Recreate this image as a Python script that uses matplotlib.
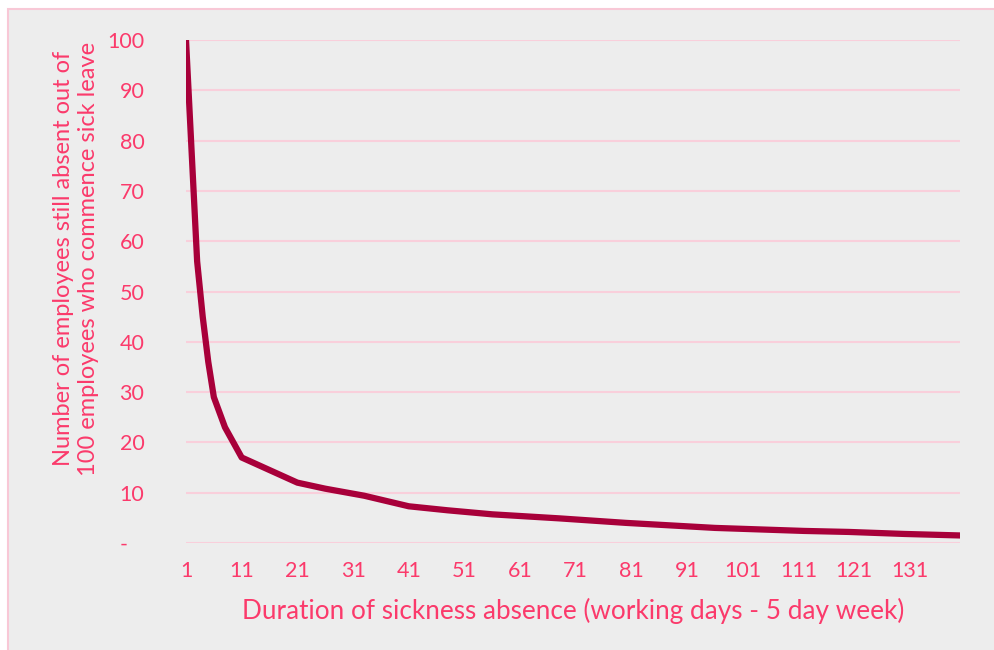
import matplotlib
matplotlib.use("Agg")
import matplotlib.pyplot as plt
from matplotlib.patches import Rectangle

# Data (day of absence -> employees still absent out of 100)
days = [1, 2, 3, 4, 5, 6, 7, 8, 9, 10, 11, 16, 21, 26, 31, 33, 41, 48, 56,
        68, 80, 88, 96, 104, 112, 120, 130, 140]
still_absent = [100, 78, 56, 45, 36, 29, 26, 23, 21, 19, 17, 14.5, 12, 10.8,
                9.8, 9.4, 7.3, 6.5, 5.7, 4.9, 4.0, 3.5, 3.0, 2.7, 2.4, 2.2,
                1.8, 1.5]

x_ticks = [1, 11, 21, 31, 41, 51, 61, 71, 81, 91, 101, 111, 121, 131]
y_ticks = [0, 10, 20, 30, 40, 50, 60, 70, 80, 90, 100]
y_tick_labels = ["-   ", "10", "20", "30", "40", "50", "60", "70", "80", "90", "100"]

x_label = "Duration of sickness absence (working days - 5 day week)"
y_label = "Number of employees still absent out of\n100 employees who commence sick leave"

TEXT = "#FB3A6B"
GRID = "#F9CFDB"
LINE = "#A8003A"
BG = "#EDEDED"

plt.rcParams['font.family'] = ['Lato', 'DejaVu Sans']

W, H = 994, 650
fig = plt.figure(figsize=(W / 100, H / 100), dpi=100)
fig.patch.set_facecolor("white")
bg = Rectangle((8 / W, -0.05), 1.1, 1 - 9 / H + 0.05,
               transform=fig.transFigure, facecolor=BG,
               edgecolor="#F8C8D6", linewidth=1.5, zorder=-10)
fig.patches.append(bg)

ax = fig.add_axes([186 / W, 1 - 543 / H, (960 - 186) / W, (543 - 40) / H])
ax.set_zorder(1)
ax.set_facecolor("none")
ax.plot(days, still_absent, color=LINE, linewidth=4.5, solid_capstyle="round",
        solid_joinstyle="round", zorder=3)

ax.set_xlim(1, 140)
ax.set_ylim(0, 100)
ax.set_xticks(x_ticks)
ax.set_xticklabels([str(t) for t in x_ticks])
ax.set_yticks(y_ticks)
ax.set_yticklabels(y_tick_labels)
ax.tick_params(axis="both", length=0, colors=TEXT, labelsize=15.5)
ax.tick_params(axis="x", pad=13)
ax.tick_params(axis="y", pad=30)
ax.grid(axis="y", color=GRID, linewidth=1.5)
ax.set_axisbelow(True)
for s in ax.spines.values():
    s.set_visible(False)

ax.set_xlabel(x_label, color=TEXT, fontsize=18.8, labelpad=12)
ax.set_ylabel(y_label, color=TEXT, fontsize=17, linespacing=1.2)
ax.yaxis.set_label_coords(-0.113, 0.565)

fig.savefig("out.png", dpi=100)
